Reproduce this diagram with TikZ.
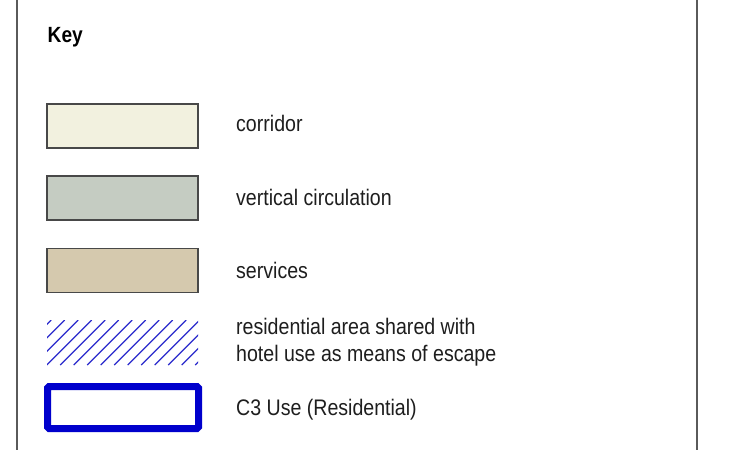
\documentclass[tikz,border=0pt]{standalone}
\usepackage{fontspec}
\setmainfont[FakeStretch=0.87]{Liberation Sans}
\definecolor{corr}{HTML}{F2F1DF}
\definecolor{vcirc}{HTML}{C5CCC2}
\definecolor{serv}{HTML}{D5C9AE}
\definecolor{hatchblue}{HTML}{2A2ACC}
\definecolor{cthree}{HTML}{0000CC}
\definecolor{frame}{HTML}{5A5A5A}
\definecolor{txt}{HTML}{1E1E1E}
\begin{document}
\begin{tikzpicture}[x=1pt,y=-1pt,
  keybox/.style={draw=frame!80!black,line width=1.2pt,outer sep=0pt,inner sep=0pt,minimum width=151,minimum height=44,anchor=north west},
  label/.style={anchor=base west,inner sep=0pt,text=txt,font=\fontsize{22.5}{27.5}\selectfont,align=left},
  title/.style={anchor=base west,inner sep=0pt,text=black,font=\bfseries\fontsize{22}{24}\selectfont}]
\useasboundingbox (0,0) rectangle (731,450);
\fill[white] (0,0) rectangle (731,450);
% frame lines
\draw[frame,line width=1.6pt] (17,0) coordinate (fl1) -- (17,450) coordinate (fl2);
\draw[frame,line width=1.6pt] (697,0) coordinate (fr1) -- (697,450) coordinate (fr2);
% title
\node[title] (key) at (47.5,42.5) {Key};
% swatches
\node[keybox,fill=corr] (b1) at (47,104) {};
\node[keybox,fill=vcirc] (b2) at (47,176) {};
\node[keybox,fill=serv] (b3) at (47,248.5) {};
% hatch
\coordinate (h1) at (47,320);
\coordinate (h2) at (198,365);
\begin{scope}
\clip (h1) rectangle (h2);
\foreach \k in {-4,...,11}{
  \draw[hatchblue,line width=1.2pt] ({46.7+13.5*\k},365) -- ({46.7+13.5*\k+45},320);
}
\end{scope}
% C3 box
\node[draw=cthree,line width=7pt,rounded corners=1.5pt,outer sep=0pt,inner sep=0pt,minimum width=151,minimum height=42,anchor=north west] (b5) at (47.5,386.5) {};
% labels
\node[label] (t1) at (236,131.7) {corridor};
\node[label] (t2) at (236,205) {vertical circulation};
\node[label] (t3) at (236,278) {services};
\node[label] (t4) at (236,361.7) {residential area shared with\\hotel use as means of escape};
\node[label] (t5) at (236,415) {C3 Use (Residential)};
\end{tikzpicture}
\end{document}
